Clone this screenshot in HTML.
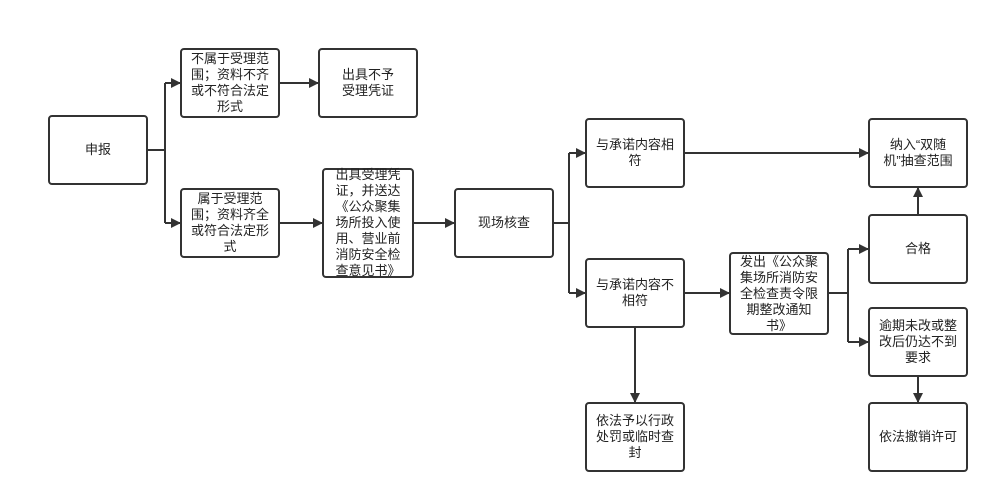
<!DOCTYPE html>
<html><head><meta charset="utf-8"><style>
body{margin:0;width:1000px;height:504px;background:#fff;position:relative;overflow:hidden;font-family:"Liberation Sans","Noto Sans CJK SC",sans-serif;}
.b{position:absolute;box-sizing:border-box;border:2px solid #333;border-radius:4px;background:#fff;display:flex;align-items:center;justify-content:center;text-align:center;font-size:13px;line-height:16px;color:#222;padding:0 2px;white-space:nowrap;}
svg{position:absolute;left:0;top:0;}
</style></head><body>
<svg width="1000" height="504">
<defs><marker id="a" markerWidth="10" markerHeight="10" refX="9" refY="5" orient="auto" markerUnits="userSpaceOnUse"><path d="M0,0 L10,5 L0,10 z" fill="#333"/></marker></defs>
<g stroke="#333" stroke-width="2" fill="none">
<path d="M148,150 H165 M165,83 V223"/>
<path d="M165,83 H180" marker-end="url(#a)"/>
<path d="M165,223 H180" marker-end="url(#a)"/>
<path d="M280,83 H318" marker-end="url(#a)"/>
<path d="M280,223 H322" marker-end="url(#a)"/>
<path d="M414,223 H454" marker-end="url(#a)"/>
<path d="M554,223 H569 M569,153 V293"/>
<path d="M569,153 H585" marker-end="url(#a)"/>
<path d="M569,293 H585" marker-end="url(#a)"/>
<path d="M685,153 H868" marker-end="url(#a)"/>
<path d="M685,293 H729" marker-end="url(#a)"/>
<path d="M829,293 H848 M848,249 V342"/>
<path d="M848,249 H868" marker-end="url(#a)"/>
<path d="M848,342 H868" marker-end="url(#a)"/>
<path d="M918,214 V188" marker-end="url(#a)"/>
<path d="M918,377 V402" marker-end="url(#a)"/>
<path d="M635,328 V402" marker-end="url(#a)"/>
</g></svg>
<div class="b" style="left:48px;top:115px;width:100px;height:70px">申报</div>
<div class="b" style="left:180px;top:48px;width:100px;height:70px">不属于受理范<br>围；资料不齐<br>或不符合法定<br>形式</div>
<div class="b" style="left:318px;top:48px;width:100px;height:70px">出具不予<br>受理凭证</div>
<div class="b" style="left:180px;top:188px;width:100px;height:70px">属于受理范<br>围；资料齐全<br>或符合法定形<br>式</div>
<div class="b" style="left:322px;top:168px;width:92px;height:110px;">出具受理凭<br>证，并送达<br>《公众聚集<br>场所投入使<br>用、营业前<br>消防安全检<br>查意见书》</div>
<div class="b" style="left:454px;top:188px;width:100px;height:70px">现场核查</div>
<div class="b" style="left:585px;top:118px;width:100px;height:70px">与承诺内容相<br>符</div>
<div class="b" style="left:585px;top:258px;width:100px;height:70px">与承诺内容不<br>相符</div>
<div class="b" style="left:729px;top:252px;width:100px;height:83px">发出《公众聚<br>集场所消防安<br>全检查责令限<br>期整改通知<br>书》</div>
<div class="b" style="left:868px;top:118px;width:100px;height:70px">纳入“双随<br>机”抽查范围</div>
<div class="b" style="left:868px;top:214px;width:100px;height:70px">合格</div>
<div class="b" style="left:868px;top:307px;width:100px;height:70px">逾期未改或整<br>改后仍达不到<br>要求</div>
<div class="b" style="left:868px;top:402px;width:100px;height:70px">依法撤销许可</div>
<div class="b" style="left:585px;top:402px;width:100px;height:70px">依法予以行政<br>处罚或临时查<br>封</div>
</body></html>
